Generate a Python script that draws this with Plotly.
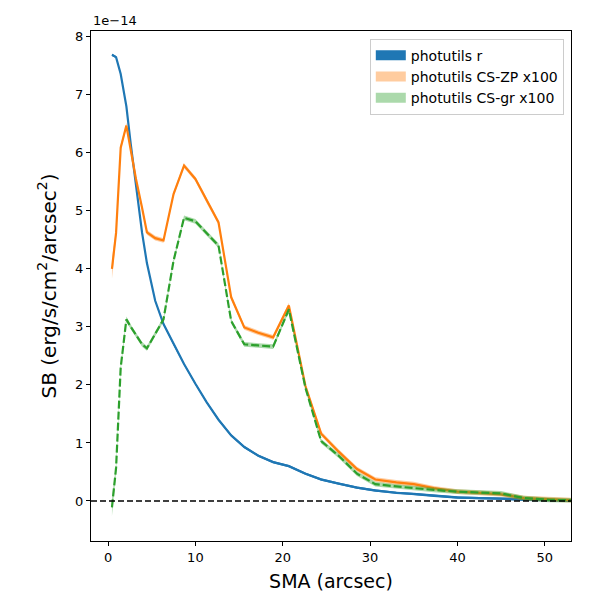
import plotly.graph_objects as go

# SMA in arcsec, SB in units of 1e-14 erg/s/cm2/arcsec2
sma = [0.45, 0.92, 1.45, 2.1, 2.6, 3.2, 3.9, 4.45, 5.4, 6.35, 7.5, 8.7, 10.0, 11.3,
       12.65, 14.1, 15.6, 17.2, 18.9, 20.7, 22.6, 24.4, 26.4, 28.5, 30.6, 33.0,
       35.0, 37.3, 40.0, 42.5, 45.0, 47.6, 50.5, 53.5]

sb_r = [7.69, 7.65, 7.36, 6.8, 6.15, 5.4, 4.62, 4.1, 3.45, 3.05, 2.7, 2.36, 2.02, 1.70,
        1.40, 1.13, 0.93, 0.78, 0.67, 0.60, 0.47, 0.37, 0.30, 0.23, 0.18, 0.14,
        0.12, 0.09, 0.06, 0.05, 0.04, 0.02, 0.01, 0.005]
err_r = [0.02, 0.02, 0.02, 0.02, 0.02, 0.02, 0.02, 0.02, 0.02, 0.02, 0.02, 0.02, 0.02, 0.02,
         0.02, 0.02, 0.02, 0.02, 0.02, 0.02, 0.02, 0.02, 0.02, 0.02, 0.02, 0.02,
         0.02, 0.02, 0.02, 0.02, 0.02, 0.02, 0.02, 0.02]

sb_zp = [4.0, 4.62, 6.09, 6.47, 6.05, 5.55, 5.05, 4.63, 4.53, 4.49, 5.29, 5.78, 5.55, 5.17,
         4.80, 3.51, 2.99, 2.90, 2.82, 3.37, 1.98, 1.16, 0.85, 0.55, 0.37, 0.32,
         0.29, 0.22, 0.16, 0.14, 0.115, 0.05, 0.03, 0.01]
err_zp = [0.17, 0.08, 0.05, 0.05, 0.04, 0.04, 0.04, 0.04, 0.04, 0.04, 0.04, 0.04, 0.04, 0.04,
          0.04, 0.04, 0.04, 0.04, 0.04, 0.04, 0.04, 0.04, 0.04, 0.04, 0.04, 0.04,
          0.04, 0.04, 0.04, 0.04, 0.04, 0.04, 0.04, 0.04]

sb_gr = [-0.11, 0.57, 2.30, 3.13, 3.0, 2.86, 2.7, 2.63, 2.88, 3.13, 4.14, 4.88, 4.82, 4.61,
         4.40, 3.10, 2.70, 2.68, 2.66, 3.30, 1.95, 1.03, 0.78, 0.47, 0.29, 0.25,
         0.22, 0.19, 0.16, 0.14, 0.13, 0.05, 0.02, 0.01]
err_gr = [0.15, 0.08, 0.05, 0.05, 0.04, 0.04, 0.04, 0.04, 0.04, 0.04, 0.04, 0.04, 0.04, 0.04,
          0.04, 0.04, 0.04, 0.04, 0.04, 0.04, 0.04, 0.04, 0.04, 0.04, 0.04, 0.04,
          0.04, 0.04, 0.04, 0.04, 0.04, 0.04, 0.04, 0.04]

series = [
    ("photutils r", sb_r, err_r, "#1f77b4", "rgba(31,119,180,1)", "solid"),
    ("photutils CS-ZP x100", sb_zp, err_zp, "#ff7f0e", "rgba(255,127,14,0.4)", "solid"),
    ("photutils CS-gr x100", sb_gr, err_gr, "#2ca02c", "rgba(44,160,44,0.4)", "8px,3px"),
]

fig = go.Figure()

for name, y, e, col, fillcol, dash in series:
    upper = [a + b for a, b in zip(y, e)]
    lower = [a - b for a, b in zip(y, e)]
    fig.add_trace(go.Scatter(
        x=sma + sma[::-1], y=upper + lower[::-1],
        fill="toself", fillcolor=fillcol, line=dict(width=0),
        mode="lines", showlegend=False, hoverinfo="skip"))
    fig.add_trace(go.Scatter(
        x=sma, y=y, mode="lines", line=dict(color=col, width=2.2, dash=dash),
        showlegend=False))
    # legend patch, like the fill_between handle
    fig.add_trace(go.Scatter(
        x=[None], y=[None], mode="lines", name=name,
        line=dict(color=fillcol, width=11)))

fig.add_shape(type="line", xref="paper", yref="y", x0=0, x1=1, y0=0, y1=0,
              line=dict(color="black", width=1.6, dash="6px,3px"))

fig.add_annotation(text="1e\u221214", xref="paper", yref="paper", x=0, y=1,
                   xanchor="left", yanchor="bottom", showarrow=False,
                   font=dict(size=13, color="black"), yshift=1)

axis_style = dict(showline=True, linecolor="black", linewidth=1.2, mirror=True,
                  ticks="outside", ticklen=4, tickcolor="black", showgrid=False,
                  zeroline=False, tickfont=dict(size=13, color="black"))

fig.update_xaxes(range=[-1.95, 53.0], tickvals=[0, 10, 20, 30, 40, 50],
                 title=dict(text="SMA (arcsec)", font=dict(size=19, color="black"), standoff=10),
                 **axis_style)
fig.update_yaxes(range=[-0.69, 8.1], tickvals=[0, 1, 2, 3, 4, 5, 6, 7, 8],
                 title=dict(text="SB (erg/s/cm<sup>2</sup>/arcsec<sup>2</sup>)",
                            font=dict(size=20, color="black"), standoff=13),
                 **axis_style)

# page body adds a small offset, so the figure is a bit under 600
fig.update_layout(
    width=593, height=593,
    margin=dict(l=83, r=30, t=23, b=60),
    plot_bgcolor="white", paper_bgcolor="white",
    font=dict(family="DejaVu Sans", color="black"),
    legend=dict(x=0.985, y=0.985, xanchor="right", yanchor="top",
                bordercolor="#cccccc", borderwidth=1, bgcolor="white",
                font=dict(size=14)),
)

fig.write_html("out.html")
